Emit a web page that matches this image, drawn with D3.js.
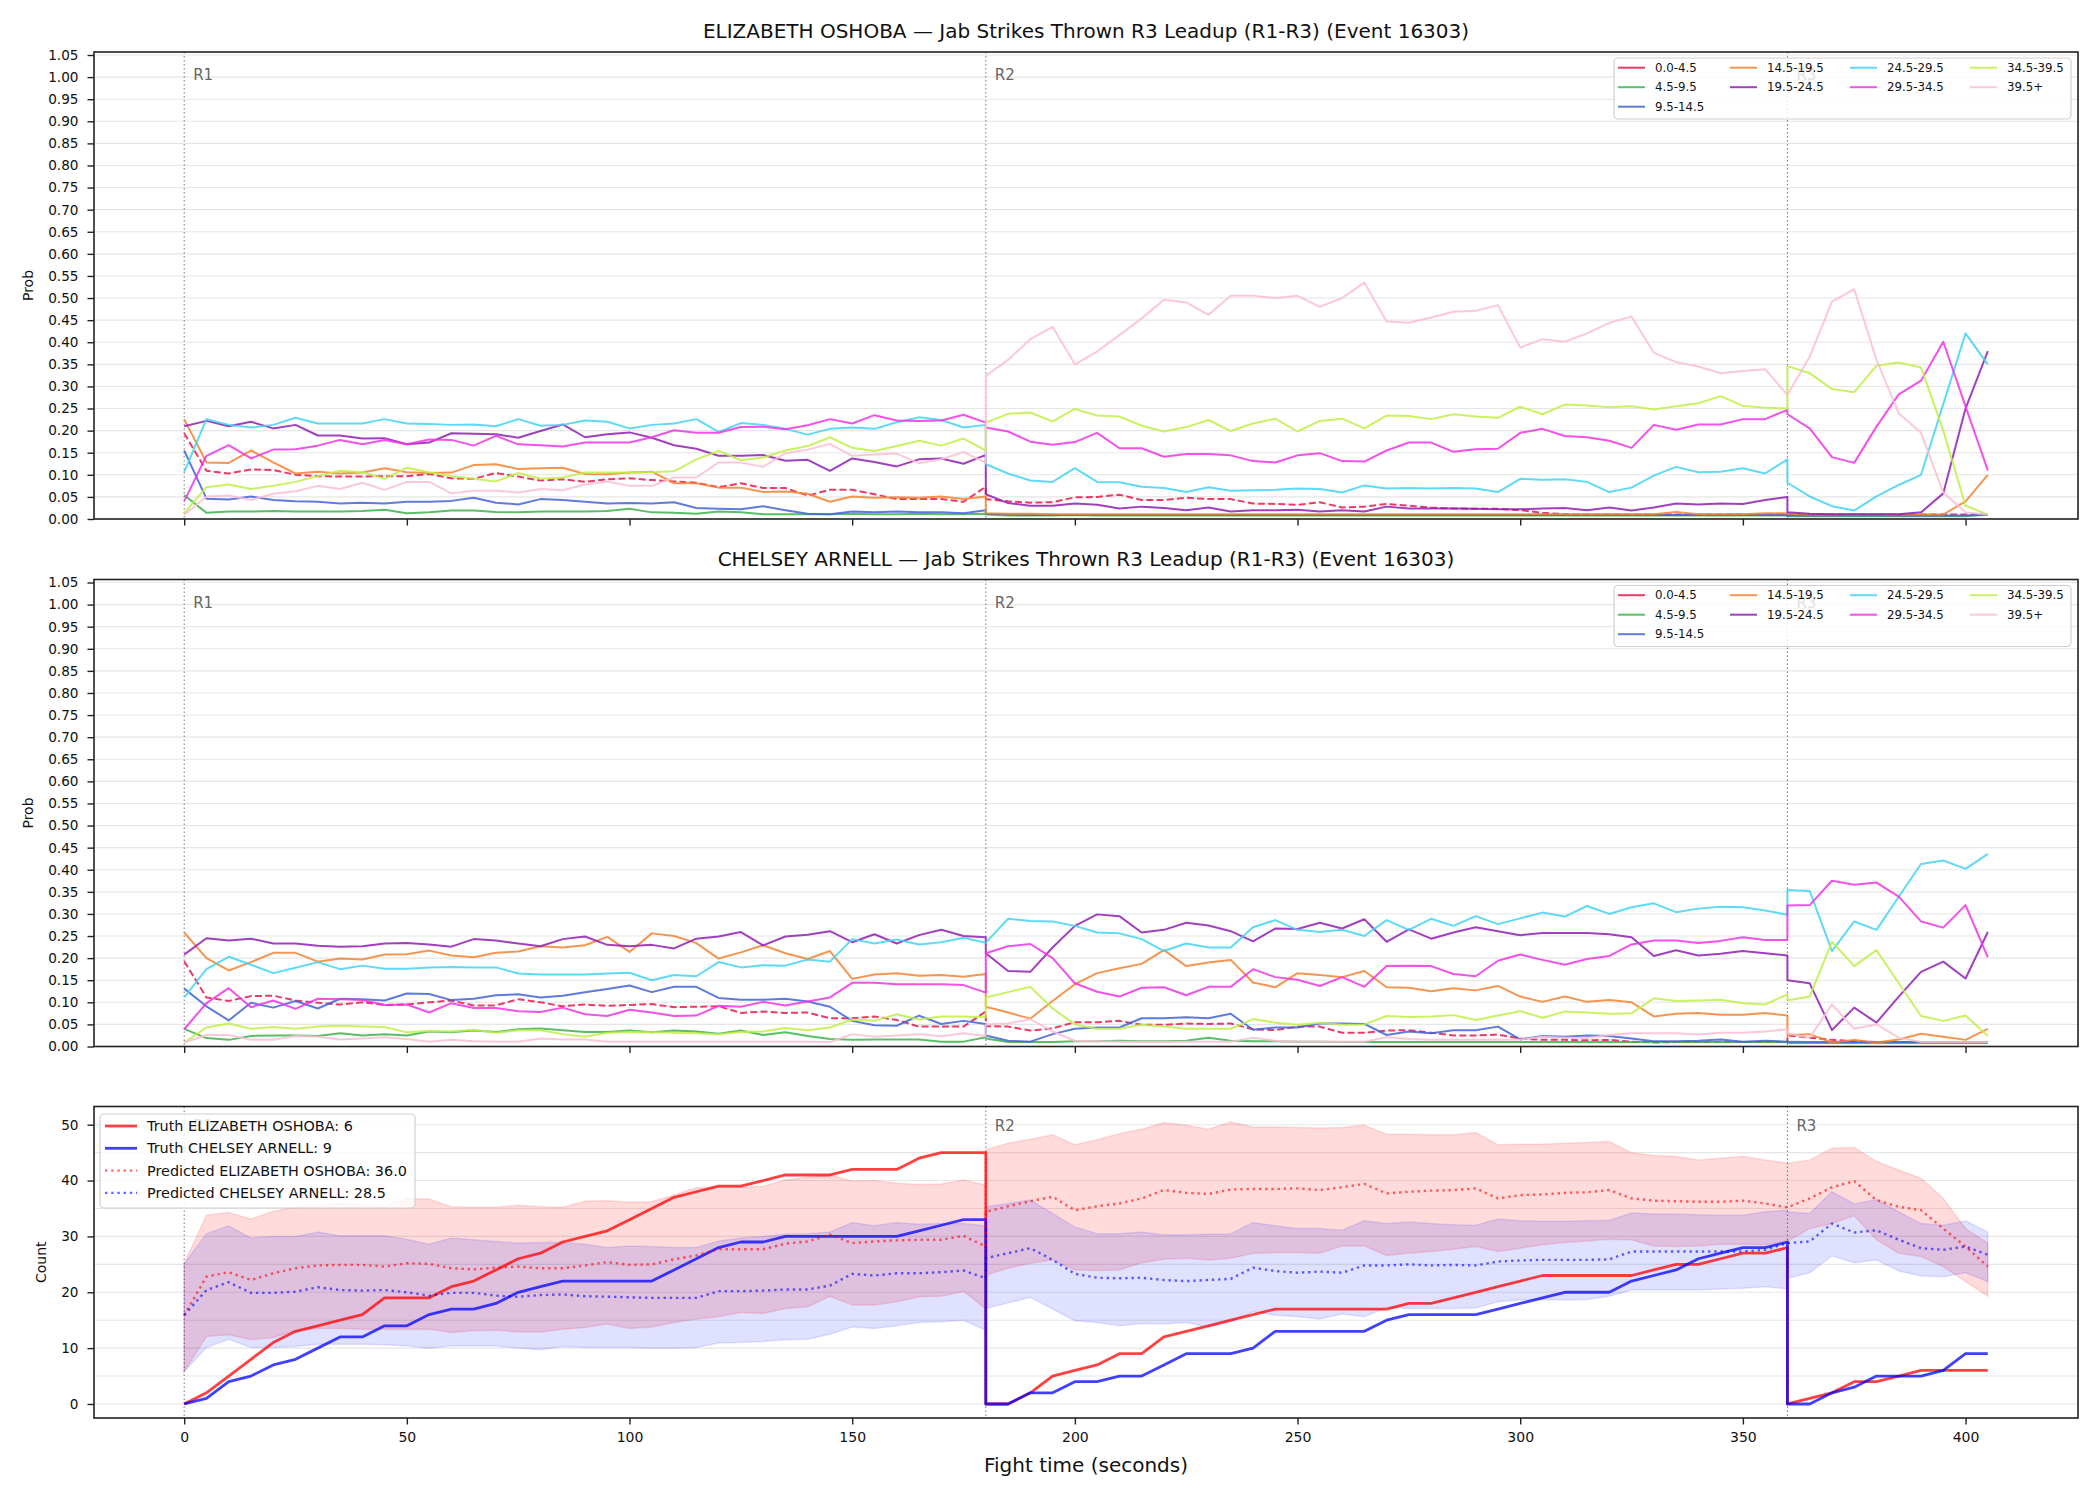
<!DOCTYPE html>
<html>
<head>
<meta charset="utf-8">
<script src="https://cdn.jsdelivr.net/npm/d3@7"></script>
<style>
  body { margin: 0; background: #fff; }
  svg { display: block; }
</style>
</head>
<body>
<svg id="chart" width="2100" height="1500"></svg>
<script>
// ---- data ----
const fighterA = "ELIZABETH OSHOBA";
const fighterB = "CHELSEY ARNELL";
const titleSuffix = " \u2014 Jab Strikes Thrown R3 Leadup (R1-R3) (Event 16303)";

const r1Times = [0,5,10,15,20,25,30,35,40,45,50,55,60,65,70,75,80,85,90,95,100,105,110,115,120,125,130,135,140,145,150,155,160,165,170,175,180];
const r2Times = [180,185,190,195,200,205,210,215,220,225,230,235,240,245,250,255,260,265,270,275,280,285,290,295,300,305,310,315,320,325,330,335,340,345,350,355,360];
const r3Times = [360,365,370,375,380,385,390,395,400,405];
const roundTimes = [r1Times, r2Times, r3Times];

const roundStarts = [0, 180, 360];
const roundNames = ["R1", "R2", "R3"];

const bins = ["0.0-4.5","4.5-9.5","9.5-14.5","14.5-19.5","19.5-24.5","24.5-29.5","29.5-34.5","34.5-39.5","39.5+"];
const binColors = ["#e6194b","#3cb44b","#4363d8","#f58231","#911eb4","#42d4f4","#f032e6","#bfef45","#fabed4"];

const probTicks = [0,0.05,0.10,0.15,0.20,0.25,0.30,0.35,0.40,0.45,0.50,0.55,0.60,0.65,0.70,0.75,0.80,0.85,0.90,0.95,1.00,1.05];
const countTicks = [0,10,20,30,40,50];
const countGrid = [0,5,10,15,20,25,30,35,40,45,50];
const timeTicks = [0,50,100,150,200,250,300,350,400];

// ELIZABETH OSHOBA: probability per bin, [R1, R2, R3]
const osh00 = [
  [0.194,0.109,0.103,0.112,0.111,0.100,0.097,0.096,0.096,0.097,0.097,0.102,0.092,0.091,0.104,0.096,0.087,0.090,0.084,0.090,0.092,0.088,0.085,0.082,0.072,0.081,0.070,0.070,0.053,0.066,0.066,0.056,0.045,0.045,0.045,0.039,0.073],
  [0.045,0.040,0.037,0.038,0.049,0.050,0.055,0.043,0.043,0.048,0.045,0.045,0.035,0.034,0.032,0.038,0.026,0.028,0.034,0.030,0.026,0.024,0.023,0.023,0.020,0.014,0.011,0.010,0.010,0.010,0.010,0.010,0.010,0.010,0.010,0.010,0.010],
  [0.010,0.010,0.010,0.010,0.010,0.010,0.010,0.010,0.010,0.010]];
const osh05 = [
  [0.054,0.014,0.017,0.017,0.018,0.017,0.017,0.017,0.018,0.021,0.013,0.015,0.019,0.019,0.016,0.015,0.017,0.017,0.017,0.018,0.023,0.015,0.014,0.012,0.017,0.015,0.011,0.011,0.011,0.011,0.012,0.011,0.011,0.012,0.011,0.011,0.012],
  [0.010,0.008,0.008,0.008,0.009,0.008,0.008,0.008,0.008,0.008,0.008,0.008,0.008,0.008,0.008,0.008,0.008,0.008,0.008,0.008,0.008,0.008,0.008,0.008,0.008,0.008,0.008,0.008,0.008,0.008,0.008,0.008,0.008,0.008,0.008,0.008,0.008],
  [0.006,0.006,0.006,0.006,0.006,0.006,0.006,0.006,0.006,0.010]];
const osh10 = [
  [0.155,0.046,0.044,0.051,0.043,0.040,0.039,0.035,0.037,0.035,0.039,0.039,0.041,0.048,0.037,0.033,0.045,0.043,0.039,0.035,0.036,0.035,0.038,0.025,0.023,0.022,0.029,0.020,0.012,0.011,0.017,0.015,0.017,0.015,0.015,0.013,0.020],
  [0.012,0.010,0.009,0.009,0.009,0.009,0.009,0.009,0.009,0.009,0.009,0.009,0.009,0.009,0.009,0.009,0.009,0.009,0.009,0.009,0.009,0.009,0.009,0.009,0.009,0.009,0.009,0.009,0.009,0.009,0.009,0.009,0.009,0.009,0.009,0.009,0.009],
  [0.008,0.008,0.008,0.008,0.008,0.008,0.008,0.008,0.008,0.010]];
const osh15 = [
  [0.226,0.128,0.127,0.155,0.128,0.103,0.107,0.103,0.105,0.115,0.106,0.104,0.105,0.122,0.124,0.113,0.115,0.116,0.102,0.101,0.105,0.107,0.081,0.081,0.071,0.071,0.061,0.062,0.057,0.039,0.051,0.048,0.049,0.048,0.051,0.045,0.051],
  [0.013,0.012,0.012,0.011,0.011,0.011,0.011,0.011,0.011,0.011,0.011,0.011,0.011,0.011,0.011,0.011,0.011,0.011,0.011,0.011,0.011,0.011,0.011,0.011,0.011,0.011,0.011,0.011,0.011,0.011,0.011,0.016,0.011,0.011,0.011,0.013,0.013],
  [0.012,0.010,0.010,0.010,0.010,0.010,0.010,0.010,0.040,0.100]];
const osh20 = [
  [0.210,0.222,0.210,0.220,0.205,0.213,0.189,0.189,0.182,0.183,0.169,0.173,0.194,0.193,0.192,0.184,0.199,0.214,0.185,0.192,0.196,0.184,0.167,0.159,0.143,0.143,0.145,0.132,0.134,0.109,0.137,0.129,0.119,0.135,0.137,0.125,0.145],
  [0.056,0.036,0.030,0.030,0.035,0.032,0.024,0.028,0.025,0.020,0.026,0.017,0.020,0.020,0.021,0.017,0.020,0.017,0.028,0.024,0.024,0.024,0.023,0.022,0.022,0.024,0.025,0.020,0.026,0.019,0.026,0.035,0.033,0.035,0.034,0.043,0.050],
  [0.015,0.012,0.011,0.011,0.011,0.011,0.015,0.058,0.250,0.380]];
const osh25 = [
  [0.106,0.226,0.213,0.207,0.213,0.229,0.216,0.216,0.216,0.226,0.216,0.215,0.213,0.214,0.210,0.226,0.211,0.213,0.223,0.220,0.205,0.213,0.216,0.226,0.197,0.217,0.213,0.204,0.191,0.204,0.207,0.204,0.219,0.230,0.224,0.207,0.213],
  [0.124,0.103,0.087,0.084,0.115,0.084,0.083,0.073,0.070,0.061,0.072,0.064,0.065,0.066,0.069,0.068,0.060,0.076,0.069,0.070,0.069,0.070,0.069,0.061,0.091,0.089,0.090,0.084,0.061,0.071,0.098,0.118,0.106,0.107,0.115,0.103,0.135],
  [0.082,0.051,0.029,0.019,0.051,0.077,0.100,0.260,0.420,0.350]];
const osh30 = [
  [0.040,0.143,0.167,0.137,0.157,0.158,0.166,0.179,0.169,0.179,0.169,0.180,0.179,0.166,0.188,0.169,0.167,0.164,0.173,0.173,0.173,0.185,0.201,0.195,0.195,0.208,0.209,0.203,0.212,0.226,0.216,0.235,0.223,0.222,0.223,0.236,0.218],
  [0.207,0.198,0.175,0.168,0.174,0.195,0.160,0.160,0.141,0.147,0.147,0.144,0.131,0.128,0.144,0.149,0.131,0.130,0.155,0.173,0.173,0.152,0.158,0.159,0.195,0.204,0.188,0.185,0.177,0.161,0.213,0.202,0.214,0.214,0.226,0.226,0.247],
  [0.237,0.205,0.140,0.127,0.209,0.282,0.313,0.401,0.255,0.110]];
const osh35 = [
  [0.013,0.072,0.078,0.068,0.075,0.084,0.097,0.109,0.106,0.091,0.116,0.106,0.097,0.091,0.085,0.104,0.091,0.094,0.105,0.105,0.105,0.106,0.108,0.135,0.154,0.133,0.139,0.155,0.165,0.185,0.161,0.154,0.165,0.177,0.166,0.182,0.155],
  [0.218,0.238,0.241,0.221,0.249,0.234,0.232,0.211,0.198,0.208,0.224,0.199,0.216,0.227,0.198,0.222,0.227,0.205,0.234,0.233,0.226,0.237,0.232,0.229,0.254,0.237,0.259,0.257,0.253,0.255,0.248,0.255,0.262,0.278,0.256,0.252,0.250],
  [0.346,0.330,0.294,0.287,0.347,0.354,0.343,0.200,0.030,0.010]];
const osh40 = [
  [0.009,0.051,0.053,0.043,0.057,0.063,0.075,0.068,0.082,0.066,0.084,0.084,0.058,0.064,0.064,0.060,0.068,0.065,0.078,0.085,0.075,0.075,0.094,0.094,0.128,0.128,0.118,0.149,0.157,0.170,0.143,0.146,0.148,0.126,0.135,0.152,0.127],
  [0.324,0.360,0.407,0.435,0.350,0.379,0.416,0.454,0.496,0.490,0.462,0.505,0.505,0.500,0.505,0.480,0.500,0.535,0.447,0.444,0.456,0.469,0.471,0.484,0.388,0.407,0.401,0.420,0.444,0.458,0.376,0.355,0.345,0.330,0.335,0.339,0.281],
  [0.281,0.367,0.492,0.520,0.360,0.239,0.195,0.060,0.015,0.010]];

// CHELSEY ARNELL: probability per bin, [R1, R2, R3]
const arn00 = [
  [0.193,0.111,0.103,0.114,0.115,0.104,0.099,0.095,0.100,0.094,0.095,0.100,0.104,0.093,0.093,0.107,0.100,0.091,0.095,0.092,0.094,0.096,0.089,0.090,0.091,0.076,0.079,0.076,0.077,0.064,0.064,0.068,0.060,0.045,0.045,0.045,0.079],
  [0.046,0.045,0.036,0.041,0.055,0.055,0.058,0.049,0.049,0.052,0.051,0.052,0.039,0.037,0.045,0.045,0.031,0.031,0.036,0.037,0.031,0.025,0.025,0.027,0.018,0.015,0.015,0.014,0.015,0.011,0.009,0.010,0.010,0.010,0.010,0.010,0.010],
  [0.025,0.020,0.015,0.012,0.010,0.010,0.010,0.010,0.010,0.010]];
const arn05 = [
  [0.040,0.019,0.015,0.024,0.025,0.025,0.024,0.030,0.025,0.028,0.025,0.034,0.032,0.036,0.033,0.039,0.041,0.037,0.033,0.033,0.036,0.032,0.036,0.034,0.029,0.036,0.026,0.032,0.024,0.017,0.015,0.016,0.016,0.016,0.011,0.011,0.021],
  [0.018,0.010,0.010,0.010,0.012,0.012,0.013,0.012,0.012,0.013,0.020,0.013,0.012,0.012,0.011,0.011,0.010,0.010,0.010,0.010,0.010,0.010,0.010,0.010,0.010,0.010,0.010,0.010,0.010,0.010,0.010,0.010,0.010,0.010,0.010,0.010,0.010],
  [0.008,0.008,0.008,0.008,0.008,0.008,0.008,0.008,0.008,0.008]];
const arn10 = [
  [0.131,0.091,0.059,0.099,0.088,0.103,0.086,0.108,0.107,0.104,0.120,0.119,0.105,0.108,0.116,0.118,0.111,0.115,0.123,0.130,0.138,0.123,0.135,0.135,0.110,0.106,0.106,0.108,0.102,0.090,0.058,0.048,0.047,0.070,0.051,0.058,0.051],
  [0.025,0.013,0.011,0.028,0.040,0.043,0.043,0.064,0.064,0.066,0.064,0.074,0.038,0.043,0.043,0.052,0.052,0.051,0.026,0.034,0.030,0.037,0.037,0.045,0.016,0.024,0.022,0.025,0.024,0.018,0.012,0.012,0.013,0.016,0.011,0.013,0.011],
  [0.011,0.010,0.010,0.010,0.010,0.010,0.010,0.010,0.010,0.010]];
const arn15 = [
  [0.258,0.200,0.172,0.191,0.212,0.212,0.192,0.199,0.197,0.208,0.209,0.217,0.206,0.202,0.212,0.215,0.227,0.224,0.229,0.248,0.214,0.256,0.250,0.234,0.199,0.213,0.229,0.211,0.198,0.216,0.153,0.163,0.166,0.160,0.162,0.158,0.164],
  [0.090,0.077,0.063,0.103,0.141,0.166,0.177,0.187,0.218,0.182,0.190,0.196,0.145,0.134,0.166,0.162,0.157,0.171,0.134,0.133,0.125,0.132,0.127,0.137,0.113,0.101,0.113,0.101,0.105,0.100,0.068,0.074,0.076,0.072,0.072,0.076,0.070],
  [0.026,0.028,0.009,0.015,0.009,0.016,0.029,0.022,0.015,0.040]];
const arn20 = [
  [0.208,0.245,0.240,0.244,0.233,0.233,0.228,0.226,0.227,0.233,0.234,0.231,0.226,0.243,0.240,0.233,0.227,0.243,0.249,0.230,0.227,0.230,0.222,0.244,0.249,0.259,0.229,0.249,0.253,0.261,0.236,0.254,0.233,0.252,0.264,0.250,0.247],
  [0.211,0.171,0.169,0.224,0.273,0.299,0.295,0.258,0.264,0.280,0.274,0.261,0.238,0.267,0.266,0.280,0.267,0.288,0.237,0.265,0.244,0.258,0.270,0.261,0.252,0.257,0.257,0.257,0.254,0.247,0.205,0.218,0.206,0.210,0.216,0.211,0.206],
  [0.150,0.143,0.037,0.088,0.054,0.113,0.169,0.192,0.154,0.259]];
const arn25 = [
  [0.111,0.175,0.203,0.185,0.166,0.178,0.191,0.175,0.183,0.176,0.176,0.179,0.180,0.179,0.179,0.165,0.163,0.163,0.163,0.165,0.167,0.150,0.162,0.159,0.191,0.179,0.184,0.183,0.197,0.192,0.243,0.233,0.242,0.231,0.236,0.246,0.235],
  [0.235,0.289,0.284,0.283,0.273,0.258,0.256,0.243,0.216,0.233,0.224,0.224,0.270,0.286,0.264,0.259,0.264,0.250,0.286,0.264,0.289,0.273,0.295,0.277,0.290,0.303,0.294,0.318,0.300,0.315,0.324,0.304,0.312,0.316,0.315,0.308,0.298],
  [0.354,0.352,0.216,0.283,0.264,0.339,0.413,0.421,0.402,0.436]];
const arn30 = [
  [0.039,0.098,0.132,0.089,0.104,0.085,0.108,0.107,0.105,0.094,0.095,0.077,0.098,0.087,0.087,0.080,0.078,0.088,0.073,0.069,0.083,0.077,0.069,0.070,0.092,0.090,0.101,0.093,0.102,0.111,0.144,0.144,0.141,0.141,0.141,0.139,0.122],
  [0.211,0.227,0.232,0.200,0.143,0.124,0.113,0.133,0.134,0.116,0.135,0.135,0.175,0.157,0.151,0.137,0.157,0.135,0.182,0.183,0.182,0.164,0.159,0.194,0.208,0.196,0.185,0.198,0.205,0.231,0.240,0.240,0.234,0.239,0.247,0.241,0.241],
  [0.319,0.320,0.375,0.366,0.371,0.339,0.283,0.269,0.320,0.202]];
const arn35 = [
  [0.009,0.043,0.052,0.040,0.044,0.040,0.045,0.047,0.045,0.044,0.032,0.035,0.034,0.038,0.031,0.037,0.037,0.028,0.022,0.031,0.033,0.032,0.031,0.030,0.028,0.033,0.034,0.042,0.037,0.043,0.061,0.058,0.073,0.061,0.068,0.068,0.066],
  [0.111,0.123,0.135,0.086,0.050,0.040,0.040,0.049,0.045,0.040,0.040,0.040,0.062,0.054,0.049,0.054,0.049,0.050,0.069,0.067,0.068,0.071,0.060,0.070,0.080,0.065,0.079,0.077,0.074,0.075,0.109,0.103,0.104,0.106,0.098,0.095,0.118],
  [0.104,0.113,0.237,0.182,0.218,0.143,0.069,0.058,0.070,0.024]];
const arn40 = [
  [0.009,0.026,0.026,0.015,0.015,0.024,0.022,0.016,0.018,0.021,0.017,0.011,0.015,0.012,0.011,0.011,0.018,0.016,0.016,0.011,0.011,0.011,0.011,0.011,0.011,0.011,0.011,0.011,0.011,0.010,0.028,0.022,0.025,0.028,0.023,0.030,0.024],
  [0.050,0.052,0.062,0.034,0.013,0.012,0.011,0.011,0.011,0.011,0.011,0.011,0.020,0.013,0.011,0.011,0.011,0.011,0.021,0.017,0.015,0.015,0.015,0.015,0.016,0.022,0.020,0.019,0.026,0.030,0.030,0.030,0.027,0.031,0.031,0.034,0.039],
  [0.030,0.020,0.095,0.040,0.050,0.020,0.010,0.010,0.010,0.010]];

// cumulative counts, [R1, R2, R3]
const truthOsh = [
  [0,2,5,8,11,13,14,15,16,19,19,19,21,22,24,26,27,29,30,31,33,35,37,38,39,39,40,41,41,41,42,42,42,44,45,45,45],
  [0,0,2,5,6,7,9,9,12,13,14,15,16,17,17,17,17,17,17,18,18,19,20,21,22,23,23,23,23,23,24,25,25,26,27,27,28],
  [0,1,2,4,4,5,6,6,6,6]];
const truthArn = [
  [0,1,4,5,7,8,10,12,12,14,14,16,17,17,18,20,21,22,22,22,22,22,24,26,28,29,29,30,30,30,30,30,30,31,32,33,33],
  [0,0,2,2,4,4,5,5,7,9,9,9,10,13,13,13,13,13,15,16,16,16,16,17,18,19,20,20,20,22,23,24,26,27,28,28,29],
  [0,0,2,3,5,5,5,6,9,9]];
const predOsh = [
  [15.9,22.8,23.6,22.2,23.4,24.3,24.8,24.9,24.9,24.6,25.2,25.1,24.3,24.1,24.4,24.6,24.3,24.3,24.8,25.4,24.9,25.0,25.9,26.6,27.7,27.7,27.7,28.7,29.1,30.3,28.8,29.1,29.3,29.4,29.4,30.1,28.2],
  [34.4,35.4,36.3,37.1,34.7,35.4,35.9,36.8,38.3,37.8,37.6,38.4,38.5,38.5,38.6,38.3,38.8,39.4,37.7,38.0,38.2,38.3,38.6,36.8,37.4,37.5,37.8,37.9,38.3,36.8,36.4,36.3,36.2,36.2,36.4,35.9,35.2],
  [35.2,36.8,38.8,39.9,36.5,35.3,34.7,31.4,28.2,24.6]];
const predArn = [
  [15.9,20.4,21.8,19.9,19.9,20.1,20.9,20.4,20.3,20.4,20.0,19.4,19.9,19.9,19.4,19.2,19.5,19.6,19.3,19.2,19.1,19.0,19.0,19.0,20.2,20.2,20.3,20.5,20.5,21.2,23.3,23.0,23.4,23.4,23.6,23.9,22.5],
  [26.1,27.0,27.9,25.8,23.3,22.6,22.5,22.6,22.2,22.0,22.2,22.4,24.4,23.8,23.5,23.7,23.5,24.8,24.8,25.0,24.8,24.9,24.8,25.5,25.7,25.8,25.8,25.8,25.9,27.3,27.3,27.3,27.3,27.3,27.3,27.6,28.8],
  [28.8,29.1,32.3,30.7,31.1,29.4,27.9,27.6,28.2,26.7]];
const oshHi = [
  [25.1,33.8,34.3,33.1,34.5,35.2,35.6,35.9,35.7,35.4,36.8,36.7,35.3,35.2,35.2,35.6,35.3,35.2,36.3,36.4,36.1,36.2,37.4,38.7,38.8,38.8,39.0,40.1,40.6,41.0,39.9,40.0,39.5,39.3,39.4,40.1,39.2],
  [45.5,46.7,47.4,48.2,46.4,47.3,48.4,49.2,50.4,49.9,49.2,50.5,49.6,49.6,49.5,49.4,49.5,49.9,48.3,48.3,48.2,48.2,48.6,46.4,46.5,46.5,46.7,46.8,47.0,45.0,44.5,44.3,43.7,44.0,44.3,43.7,43.1],
  [43.1,43.7,45.8,45.9,43.4,41.9,40.4,36.8,31.4,28.8]];
const oshLo = [
  [5.8,12.1,12.4,11.5,11.9,13.1,13.5,13.5,13.4,13.4,13.4,13.4,12.8,13.1,13.2,12.9,12.9,13.4,13.7,14.3,13.5,13.8,14.6,15.2,15.6,16.4,16.2,17.1,17.4,19.3,17.7,17.7,18.3,19.2,19.3,20.2,17.0],
  [23.1,24.3,25.2,25.8,24.0,23.9,24.0,25.3,25.9,26.1,25.8,26.1,27.0,27.1,27.1,27.0,28.3,28.3,26.6,27.0,27.3,27.7,28.2,27.3,27.9,28.5,28.9,29.2,29.5,29.4,28.3,28.2,28.3,28.6,28.6,28.5,29.2],
  [29.1,31.4,32.3,33.7,29.4,27.0,26.4,24.6,21.9,19.3]];
const arnHi = [
  [25.1,30.5,31.9,29.7,30.0,30.0,30.8,30.1,30.1,30.1,29.5,28.6,29.7,29.4,29.1,28.8,28.9,28.9,28.6,28.0,28.3,28.2,28.0,28.0,29.2,29.7,30.0,30.4,30.5,30.8,32.5,31.9,32.5,32.2,32.3,32.3,31.9],
  [35.3,35.9,36.5,34.1,31.7,30.5,30.5,30.8,30.3,30.3,30.4,30.5,32.5,31.9,31.4,31.4,31.1,32.8,32.3,32.6,32.3,32.1,32.0,33.1,32.8,32.7,32.7,32.8,32.9,34.2,34.0,34.0,33.9,33.8,33.8,34.4,34.7],
  [34.4,34.1,38.0,35.8,36.6,34.4,32.3,32.0,32.8,30.8]];
const arnLo = [
  [5.8,10.1,11.6,10.1,10.1,10.3,10.7,10.7,10.7,10.6,10.4,10.0,10.4,10.4,10.4,10.0,9.7,10.3,10.1,10.1,10.1,10.0,10.0,10.1,10.9,11.0,11.2,11.5,11.6,12.5,13.8,13.5,14.0,14.6,14.7,15.0,13.2],
  [17.1,18.1,19.1,17.0,14.9,14.6,14.0,14.4,14.3,14.6,13.8,14.7,16.5,15.9,15.6,15.2,16.1,15.6,17.3,17.1,17.1,17.1,17.2,18.3,18.6,18.7,18.6,18.7,19.3,20.4,20.4,20.4,20.4,20.6,20.7,21.0,20.6],
  [22.5,23.5,26.5,25.3,25.8,23.8,22.9,22.8,23.5,21.9]];

const countLegend = [
  "Truth " + fighterA + ": 6",
  "Truth " + fighterB + ": 9",
  "Predicted " + fighterA + ": 36.0",
  "Predicted " + fighterB + ": 28.5"];

// ---- helpers ----
const FONT = "DejaVu Sans, Verdana, sans-serif";
const svg = d3.select("#chart");
svg.append("rect").attr("width", 2100).attr("height", 1500).attr("fill", "#fff");

const X0 = 94, X1 = 2078;
const x = d3.scaleLinear().domain([-20.25, 425.25]).range([X0, X1]);

// join the three rounds into one list of [t, v] pairs
function pts(series) {
  return roundTimes.flatMap((ts, r) => d3.zip(ts, series[r]));
}

function gridLines(y, vals, color) {
  svg.append("g").selectAll("line").data(vals).join("line")
    .attr("x1", X0).attr("x2", X1)
    .attr("y1", d => y(d)).attr("y2", d => y(d))
    .attr("stroke", color).attr("stroke-width", 1.1);
}

function roundMarks(top, bottom, labelDy) {
  svg.append("g").selectAll("line").data(roundStarts).join("line")
    .attr("x1", d => x(d)).attr("x2", d => x(d))
    .attr("y1", top).attr("y2", bottom)
    .attr("stroke", "#777").attr("stroke-width", 1)
    .attr("stroke-dasharray", "1.5,2.5");
  svg.append("g").selectAll("text").data(roundStarts).join("text")
    .attr("x", d => x(d) + 9).attr("y", top + labelDy)
    .attr("font-family", FONT).attr("font-size", 15)
    .attr("fill", "#666")
    .text((d, i) => roundNames[i]);
}

function axes(top, bottom, y, yVals, yFmt, xLabels) {
  const ya = svg.append("g").attr("transform", `translate(${X0},0)`)
    .call(d3.axisLeft(y).tickValues(yVals).tickFormat(yFmt).tickSize(6.5).tickPadding(9));
  ya.select(".domain").remove();
  ya.selectAll("line").attr("stroke", "#222").attr("stroke-width", 1.4);
  ya.selectAll("text").attr("font-family", FONT).attr("font-size", 13.6).attr("fill", "#111");

  const xa = svg.append("g").attr("transform", `translate(0,${bottom})`)
    .call(d3.axisBottom(x).tickValues(timeTicks)
      .tickFormat(xLabels ? d3.format("d") : "").tickSize(6.5).tickPadding(8));
  xa.select(".domain").remove();
  xa.selectAll("line").attr("stroke", "#222").attr("stroke-width", 1.4);
  xa.selectAll("text").attr("font-family", FONT).attr("font-size", 14).attr("fill", "#111");

  svg.append("rect").attr("x", X0).attr("y", top)
    .attr("width", X1 - X0).attr("height", bottom - top)
    .attr("fill", "none").attr("stroke", "#222").attr("stroke-width", 1.6);
}

function yLabel(text, cx, cy) {
  svg.append("text")
    .attr("transform", `translate(${cx},${cy}) rotate(-90)`)
    .attr("text-anchor", "middle").attr("dominant-baseline", "central")
    .attr("font-family", FONT).attr("font-size", 14).attr("fill", "#111")
    .text(text);
}

function probPanel(top, bottom, name, series) {
  const y = d3.scaleLinear().domain([0, 1.0568]).range([bottom, top]);
  gridLines(y, probTicks, "#e6e6e6");
  roundMarks(top, bottom, 28);

  const line = d3.line().x(d => x(d[0])).y(d => y(d[1]));
  svg.append("g").selectAll("path").data(series).join("path")
    .attr("d", s => line(pts(s)))
    .attr("fill", "none")
    .attr("stroke", (s, i) => binColors[i])
    .attr("stroke-opacity", 0.85)
    .attr("stroke-width", 2)
    .attr("stroke-linejoin", "round")
    .attr("stroke-dasharray", (s, i) => i === 0 ? "7,3.2" : null);

  axes(top, bottom, y, probTicks, d3.format(".2f"), false);
  yLabel("Prob", 28, (top + bottom) / 2);

  svg.append("text")
    .attr("x", (X0 + X1) / 2).attr("y", top - 14)
    .attr("text-anchor", "middle")
    .attr("font-family", FONT).attr("font-size", 20).attr("fill", "#111")
    .text(name + titleSuffix);

  // legend, 4 columns, column-major
  const lg = svg.append("g");
  lg.append("rect").attr("x", 1614).attr("y", top + 6)
    .attr("width", 457).attr("height", 61).attr("rx", 4)
    .attr("fill", "#fff").attr("fill-opacity", 0.8)
    .attr("stroke", "#cfcfcf").attr("stroke-width", 1.2);
  const colX = [1618, 1730, 1850, 1970];
  const rowY = [15.7, 35.2, 54.7];
  const slots = [[0,0],[0,1],[0,2],[1,0],[1,1],[2,0],[2,1],[3,0],[3,1]];
  bins.forEach((b, i) => {
    const [c, r] = slots[i];
    const yy = top + rowY[r];
    lg.append("line").attr("x1", colX[c]).attr("x2", colX[c] + 27)
      .attr("y1", yy).attr("y2", yy)
      .attr("stroke", binColors[i]).attr("stroke-opacity", 0.85).attr("stroke-width", 2);
    lg.append("text").attr("x", colX[c] + 37).attr("y", yy)
      .attr("dominant-baseline", "central")
      .attr("font-family", FONT).attr("font-size", 11.8).attr("fill", "#111")
      .text(b);
  });
}

// ---- panels ----
const oshSeries = [osh00, osh05, osh10, osh15, osh20, osh25, osh30, osh35, osh40];
const arnSeries = [arn00, arn05, arn10, arn15, arn20, arn25, arn30, arn35, arn40];
probPanel(52, 519, fighterA, oshSeries);
probPanel(579.5, 1046.5, fighterB, arnSeries);

// counts panel
(function () {
  const top = 1106.5, bottom = 1418;
  const y = d3.scaleLinear().domain([-2.51, 53.26]).range([bottom, top]);
  gridLines(y, countGrid, "#e6e6e6");
  roundMarks(top, bottom, 24);

  const area = d3.area().x(d => x(d[0])).y0(d => y(d[1])).y1(d => y(d[2]));
  const band = (lo, hi) => roundTimes.flatMap((ts, r) => d3.zip(ts, lo[r], hi[r]));
  svg.append("path").attr("d", area(band(oshLo, oshHi)))
    .attr("fill", "#ff0000").attr("fill-opacity", 0.14)
    .attr("stroke", "#ff0000").attr("stroke-opacity", 0.12).attr("stroke-width", 1.5);
  svg.append("path").attr("d", area(band(arnLo, arnHi)))
    .attr("fill", "#0000ff").attr("fill-opacity", 0.12)
    .attr("stroke", "#0000ff").attr("stroke-opacity", 0.1).attr("stroke-width", 1.5);

  const line = d3.line().x(d => x(d[0])).y(d => y(d[1]));
  const styles = [
    { s: truthOsh, c: "#ff0000", o: 0.75, w: 2.8, dash: null },
    { s: truthArn, c: "#0000ff", o: 0.75, w: 2.8, dash: null },
    { s: predOsh, c: "#ff0000", o: 0.6, w: 2.4, dash: "2.4,3.8" },
    { s: predArn, c: "#0000ff", o: 0.6, w: 2.4, dash: "2.4,3.8" }];
  styles.forEach(st => {
    svg.append("path").attr("d", line(pts(st.s)))
      .attr("fill", "none").attr("stroke", st.c)
      .attr("stroke-opacity", st.o).attr("stroke-width", st.w)
      .attr("stroke-linejoin", "round")
      .attr("stroke-dasharray", st.dash);
  });

  axes(top, bottom, y, countTicks, d3.format("d"), true);
  yLabel("Count", 41, (top + bottom) / 2);

  const lg = svg.append("g");
  lg.append("rect").attr("x", 100).attr("y", 1114)
    .attr("width", 315).attr("height", 94).attr("rx", 4)
    .attr("fill", "#fff").attr("fill-opacity", 0.8)
    .attr("stroke", "#cfcfcf").attr("stroke-width", 1.2);
  const rows = [1126, 1148.3, 1170.6, 1192.9];
  countLegend.forEach((t, i) => {
    const st = styles[i];
    lg.append("line").attr("x1", 105).attr("x2", 137)
      .attr("y1", rows[i]).attr("y2", rows[i])
      .attr("stroke", st.c).attr("stroke-opacity", st.o)
      .attr("stroke-width", st.w).attr("stroke-dasharray", st.dash);
    lg.append("text").attr("x", 147).attr("y", rows[i])
      .attr("dominant-baseline", "central")
      .attr("font-family", FONT).attr("font-size", 14.4).attr("fill", "#111")
      .text(t);
  });

  svg.append("text").attr("x", (X0 + X1) / 2).attr("y", 1472)
    .attr("text-anchor", "middle")
    .attr("font-family", FONT).attr("font-size", 20).attr("fill", "#111")
    .text("Fight time (seconds)");
})();
</script>
</body>
</html>
